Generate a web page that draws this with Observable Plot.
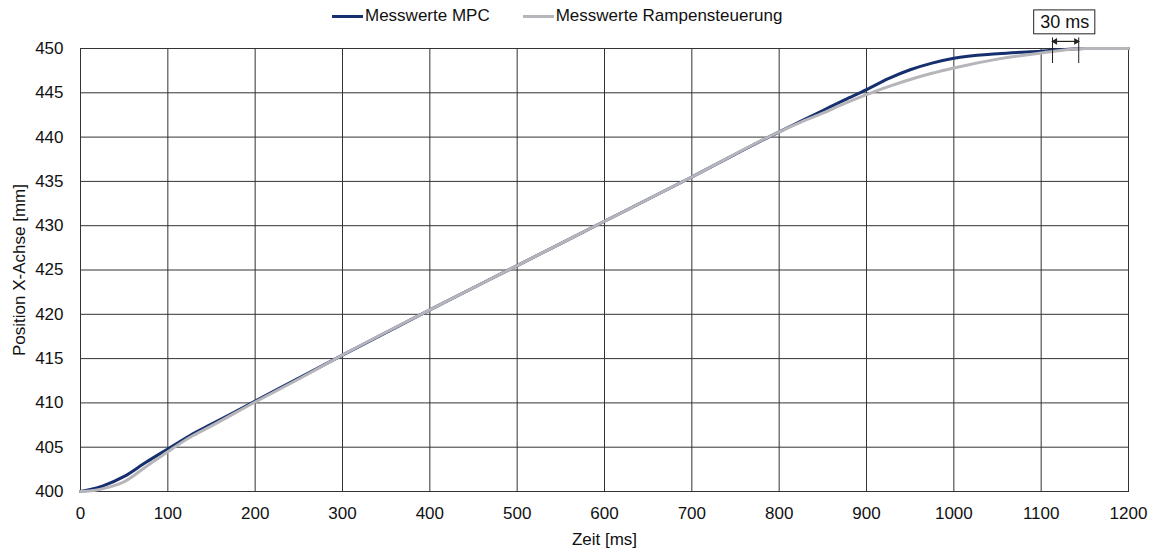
<!DOCTYPE html>
<html>
<head>
<meta charset="utf-8">
<script src="https://cdn.jsdelivr.net/npm/d3@7"></script>
<script src="https://cdn.jsdelivr.net/npm/@observablehq/plot@0.6"></script>
<style>
  html, body { margin: 0; padding: 0; background: #fff; }
  #wrap { position: relative; width: 1156px; height: 553px; font-family: "Liberation Sans", Arial, sans-serif; }
  #legend { position: absolute; top: 6px; left: 332px; display: flex; gap: 33px; font-size: 17px; color: #111; }
  .item { display: flex; align-items: center; }
  .sw { width: 31px; height: 3px; margin-right: 2px; }
</style>
</head>
<body>
<div id="wrap"><div id="legend"></div></div>
<script>
const time = [0, 10, 25, 50, 75, 100, 125, 150, 200, 250, 300, 400, 500, 600, 700, 800, 825, 850, 875, 900, 925, 950, 975, 1000, 1050, 1100, 1150, 1200];
const mpc  = [400, 400.2, 400.6, 401.7, 403.3, 404.8, 406.3, 407.6, 410.2, 412.8, 415.4, 420.5, 425.5, 430.5, 435.5, 440.6, 441.8, 443.0, 444.2, 445.35, 446.6, 447.6, 448.35, 448.9, 449.4, 449.7, 450, 450];
const ramp = [400, 400.05, 400.3, 401.1, 402.8, 404.5, 406.1, 407.4, 410.1, 412.7, 415.4, 420.5, 425.5, 430.5, 435.5, 440.6, 441.7, 442.7, 443.8, 444.8, 445.7, 446.5, 447.2, 447.8, 448.8, 449.5, 450, 450];
const seriesNames = ["Messwerte MPC", "Messwerte Rampensteuerung"];
const seriesColors = ["#162f6e", "#b5b5ba"];
const xTicks = [0, 100, 200, 300, 400, 500, 600, 700, 800, 900, 1000, 1100, 1200];
const yTicks = [400, 405, 410, 415, 420, 425, 430, 435, 440, 445, 450];
const annotStart = 1113, annotEnd = 1143, annotLabel = "30 ms";

const rows = [];
time.forEach((t, i) => rows.push({t, v: mpc[i], s: seriesNames[0]}));
time.forEach((t, i) => rows.push({t, v: ramp[i], s: seriesNames[1]}));

const chart = Plot.plot({
  width: 1156, height: 553,
  marginTop: 48, marginRight: 28, marginBottom: 62, marginLeft: 80,
  style: {fontFamily: "Liberation Sans, Arial, sans-serif", fontSize: "17px", color: "#111", background: "transparent"},
  x: {domain: [0, 1200]},
  y: {domain: [400, 450]},
  color: {domain: seriesNames, range: seriesColors},
  marks: [
    Plot.ruleX(xTicks, {stroke: "#333", strokeWidth: 1}),
    Plot.ruleY(yTicks, {stroke: "#333", strokeWidth: 1}),
    Plot.frame({stroke: "#333"}),
    Plot.axisX({ticks: xTicks, tickSize: 0, tickPadding: 15, tickFormat: d => String(d), label: "Zeit [ms]", labelAnchor: "center", labelOffset: 53, labelArrow: "none", fontSize: 17}),
    Plot.axisY({ticks: yTicks, tickSize: 0, tickPadding: 17, tickFormat: d => String(d), label: "Position X-Achse [mm]", labelAnchor: "center", labelOffset: 68, labelArrow: "none", fontSize: 17}),
    Plot.line(rows, {x: "t", y: "v", z: "s", stroke: "s", strokeWidth: 3, curve: "monotone-x"}),
    Plot.ruleX([annotStart, annotEnd], {y1: 448.3, y2: 451.2, stroke: "#222", strokeWidth: 1}),
    Plot.link([{a: annotStart, b: annotEnd}], {x1: "a", x2: "b", y1: 450.8, y2: 450.8, stroke: "#222", strokeWidth: 1.2}),
    Plot.dot([{x: annotStart + 3, r: -90}, {x: annotEnd - 3, r: 90}], {x: "x", y: 450.8, symbol: "triangle2", rotate: "r", r: 3.2, fill: "#222"}),
    Plot.rect([{a: annotStart, b: annotEnd}], {x1: 1092, x2: 1162, y1: 451.6, y2: 454.3, fill: "#fff", stroke: "#222", strokeWidth: 1}),
    Plot.text([annotLabel], {x: (1092 + 1162) / 2, y: 452.95, text: d => d, fontSize: 18, fill: "#111"})
  ]
});
document.getElementById("wrap").appendChild(chart);

const legend = document.getElementById("legend");
seriesNames.forEach((n, i) => {
  const it = document.createElement("div");
  it.className = "item";
  const sw = document.createElement("div");
  sw.className = "sw";
  sw.style.background = seriesColors[i];
  it.appendChild(sw);
  const lab = document.createElement("span");
  lab.textContent = n;
  it.appendChild(lab);
  legend.appendChild(it);
});
</script>
</body>
</html>
